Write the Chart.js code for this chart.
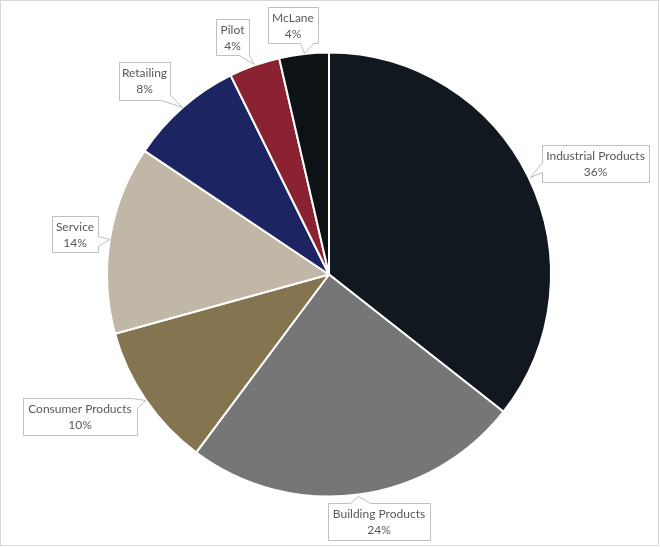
<!DOCTYPE html>
<html>
<head>
<meta charset="utf-8">
<script src="https://cdn.jsdelivr.net/npm/chart.js@4/dist/chart.umd.min.js"></script>
<style>
html,body{margin:0;padding:0;background:#fff;}
#wrap{width:660px;height:547px;}
</style>
</head>
<body>
<div id="wrap"><canvas id="c" width="660" height="547"></canvas></div>
<script>
// ---- data ----
const categories = ["Industrial Products","Building Products","Consumer Products","Service","Retailing","Pilot","McLane"];
const shares = [35.6, 24.6, 10.5, 13.7, 8.3, 3.7, 3.6];
const percentLabels = ["36%","24%","10%","14%","8%","4%","4%"];
const colors = ["#111820","#747775","#84744f","#c1b7a6","#1d2462","#8a2232","#0d1217"];

// ---- callout layout (box rect + outline with tip marker) ----
const calloutLayout = [
  {x:542,y:145,w:107,h:37, path:["TL","TR","BR","BL",[542,172],"TIP",[542,162]]},
  {x:328,y:503,w:102,h:37, path:["TL",[350,503],"TIP",[370,503],"TR","BR","BL"]},
  {x:23,y:398,w:114,h:37, path:["TL",[132,398],"TIP",[137,408],"BR","BL"]},
  {x:52,y:216,w:46,h:36, path:["TL","TR",[98,236],"TIP",[98,246],"BR","BL"]},
  {x:119,y:62,w:51,h:38, path:["TL","TR",[170,95],"TIP",[161,100],"BL"]},
  {x:216,y:19,w:33,h:36, path:["TL","TR","BR","TIP",[239,55],"BL"]},
  {x:268,y:7,w:50,h:36, path:["TL","TR","BR",[313,43],"TIP",[300,43],"BL"]}
];

const framePlugin = {
  id:'frame',
  beforeDraw(chart){
    const ctx = chart.ctx;
    ctx.save();
    ctx.fillStyle = '#fff';
    ctx.fillRect(0,0,chart.width,chart.height);
    ctx.strokeStyle = '#d9d9d9';
    ctx.lineWidth = 1;
    ctx.strokeRect(0.5,0.5,658,545);
    ctx.restore();
  }
};

const calloutPlugin = {
  id:'callouts',
  afterDraw(chart){
    const ctx = chart.ctx;
    const meta = chart.getDatasetMeta(0);
    ctx.save();
    meta.data.forEach((arc, i) => {
      const p = arc.getProps(['x','y','startAngle','endAngle','outerRadius'], true);
      const mid = (p.startAngle + p.endAngle) / 2;
      const r = p.outerRadius + 1;
      const tip = [p.x + Math.cos(mid) * r, p.y + Math.sin(mid) * r];
      const L = calloutLayout[i];
      const corners = {TL:[L.x,L.y], TR:[L.x+L.w,L.y], BR:[L.x+L.w,L.y+L.h], BL:[L.x,L.y+L.h]};
      ctx.beginPath();
      L.path.forEach((pt, k) => {
        let q = pt === 'TIP' ? tip : (typeof pt === 'string' ? corners[pt] : pt);
        const X = Math.round(q[0]) + 0.5, Y = Math.round(q[1]) + 0.5;
        if (k === 0) ctx.moveTo(X, Y); else ctx.lineTo(X, Y);
      });
      ctx.closePath();
      ctx.fillStyle = '#ffffff';
      ctx.fill();
      ctx.strokeStyle = '#bfbfbf';
      ctx.lineWidth = 1;
      ctx.stroke();
      ctx.fillStyle = '#595959';
      ctx.font = '12px Lato';
      ctx.textAlign = 'center';
      ctx.textBaseline = 'middle';
      const cx = L.x + L.w / 2;
      ctx.fillText(categories[i], cx, L.y + 11.5);
      ctx.fillText(percentLabels[i], cx, L.y + 27.5);
    });
    ctx.restore();
  }
};

new Chart(document.getElementById('c'), {
  type:'pie',
  data:{
    labels:categories,
    datasets:[{
      data:shares,
      backgroundColor:colors,
      borderColor:'#ffffff',
      borderWidth:2
    }]
  },
  options:{
    responsive:false,
    animation:false,
    layout:{padding:{left:106,right:108,top:51,bottom:49}},
    plugins:{legend:{display:false},tooltip:{enabled:false}}
  },
  plugins:[framePlugin, calloutPlugin]
});
</script>
</body>
</html>
